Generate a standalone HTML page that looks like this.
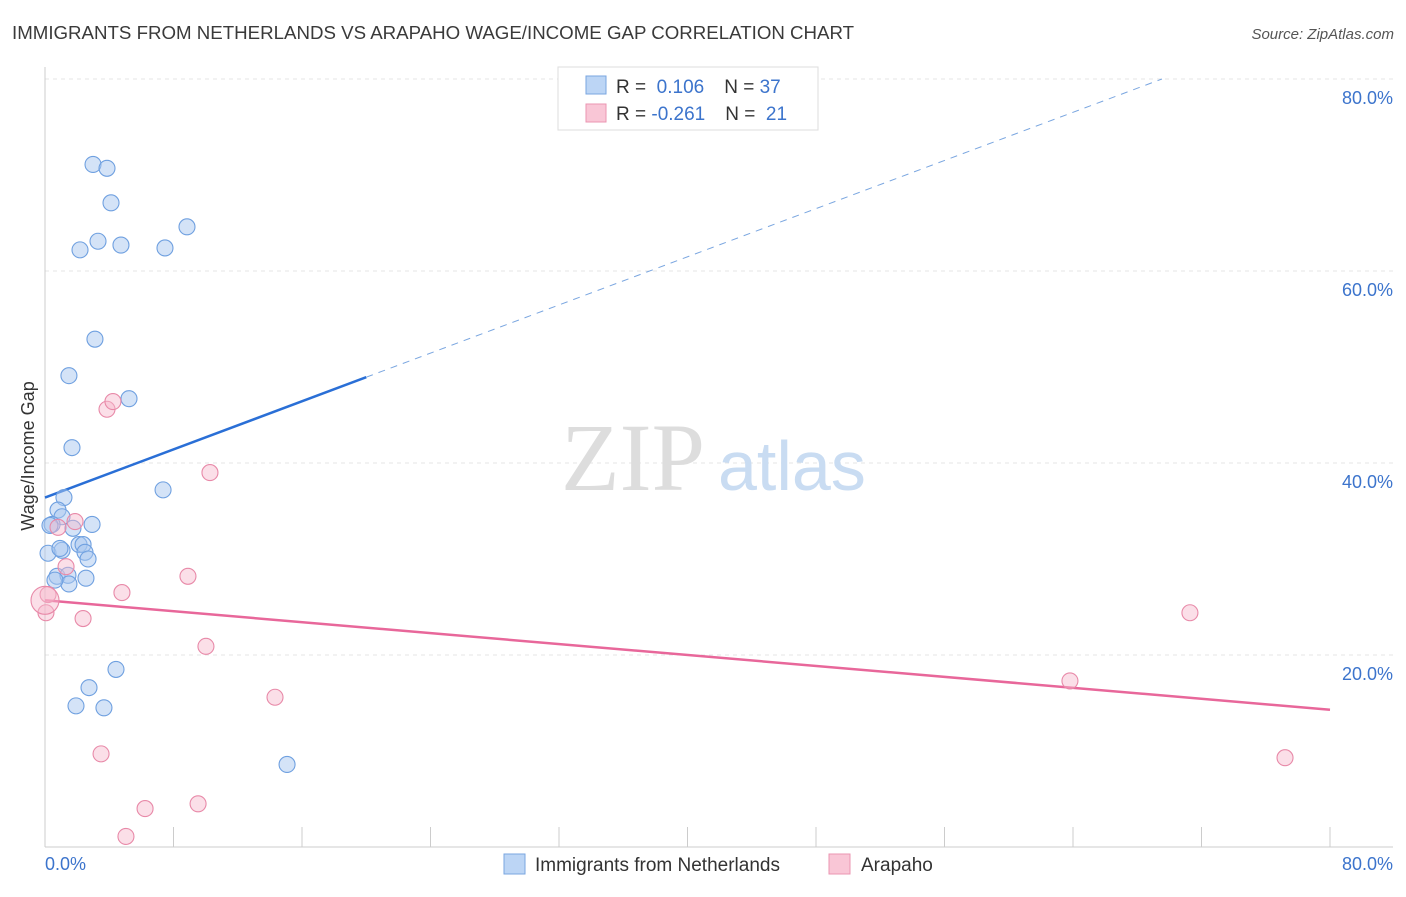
<!DOCTYPE html>
<html><head><meta charset="utf-8"><style>
body{margin:0;background:#fff;font-family:"Liberation Sans",sans-serif}
</style></head><body>
<svg width="1406" height="892" viewBox="0 0 1406 892" xmlns="http://www.w3.org/2000/svg">
<text x="12" y="39" font-size="18.7" fill="#3a3a3a">IMMIGRANTS FROM NETHERLANDS VS ARAPAHO WAGE/INCOME GAP CORRELATION CHART</text>
<text x="1394" y="39" font-size="15" fill="#555" font-style="italic" text-anchor="end">Source: ZipAtlas.com</text>
<g id="grid"></g>
<text x="705" y="490" font-size="96" fill="#ddd" text-anchor="end" font-family="Liberation Serif">ZIP</text>
<text x="718" y="490" font-size="70" fill="#c9dcf2">atlas</text>
<line x1="45" y1="67" x2="45" y2="847" stroke="#ccc"/>
<line x1="45" y1="847" x2="1393" y2="847" stroke="#ccc"/>
<g id="ticks"></g>
<text transform="translate(34,456) rotate(-90)" font-size="18" fill="#333" text-anchor="middle">Wage/Income Gap</text>
<text x="45" y="870" font-size="18" fill="#3c74cc">0.0%</text>
<text x="1393" y="870" font-size="18" fill="#3c74cc" text-anchor="end">80.0%</text>
<g id="lines"></g>
<g id="points"></g>
<g>
<rect x="558" y="67" width="260" height="63" fill="#fff" stroke="#ddd"/>
<rect x="586" y="76" width="20" height="18" fill="#bcd5f5" stroke="#7aa6e0"/>
<rect x="586" y="104" width="20" height="18" fill="#f9c6d6" stroke="#eb95b2"/>
<text x="616" y="93" font-size="19" fill="#333">R = <tspan fill="#3c74cc">&#160;0.106</tspan><tspan dx="20">N = </tspan><tspan fill="#3c74cc">37</tspan></text>
<text x="616" y="120" font-size="19" fill="#333">R = <tspan fill="#3c74cc">-0.261</tspan><tspan dx="20">N = </tspan><tspan fill="#3c74cc">&#160;21</tspan></text>
</g>
<g>
<rect x="504" y="854" width="21" height="20" fill="#bcd5f5" stroke="#7aa6e0"/>
<text x="535" y="871" font-size="19" fill="#333">Immigrants from Netherlands</text>
<rect x="829" y="854" width="21" height="20" fill="#f9c6d6" stroke="#eb95b2"/>
<text x="861" y="871" font-size="19" fill="#333">Arapaho</text>
</g>
</svg>
<script>
const yTicks=[20,40,60,80];
const xTicks=[8,16,24,32,40,48,56,64,72,80];
const blueX=[2.99,3.86,4.11,3.30,2.18,4.73,7.47,8.84,3.11,1.49,5.23,1.68,7.35,1.18,0.81,1.06,0.44,2.93,1.74,0.19,1.06,2.12,2.37,2.49,2.68,0.75,1.43,2.55,1.49,4.42,2.74,1.93,3.67,15.07,0.31,0.93,0.62];
const blueY=[71.1,70.7,67.1,63.1,62.2,62.7,62.4,64.6,52.9,49.1,46.7,41.6,37.2,36.4,35.1,34.4,33.6,33.6,33.2,30.6,30.9,31.5,31.5,30.7,30.0,28.2,28.3,28.0,27.4,18.5,16.6,14.7,14.5,8.6,33.5,31.1,27.8];
const pinkX=[3.86,4.23,10.27,1.87,0.81,1.31,8.90,4.79,0.19,2.37,0.06,10.02,14.32,3.49,6.23,9.53,5.04,71.28,63.81,77.2,0];
const pinkY=[45.6,46.4,39.0,33.9,33.3,29.2,28.2,26.5,26.3,23.8,24.4,20.9,15.6,9.7,4.0,4.5,1.1,24.4,17.3,9.3,25.7];
const blueTrend=[36.4,0.627];
const pinkTrend=[25.7,-0.1425];
const NS="http://www.w3.org/2000/svg";
const sx=v=>45+v*1285/80, sy=v=>847-v*9.6;
function mk(t,a,p){const e=document.createElementNS(NS,t);for(const k in a)e.setAttribute(k,a[k]);p.appendChild(e);return e;}
const grid=document.getElementById('grid');
yTicks.forEach(t=>{
 const l=mk('line',{x1:45,x2:1393,y1:sy(t),y2:sy(t),stroke:'#e4e4e4','stroke-dasharray':'4,4'},grid);
 
 
 const tx=mk('text',{x:1393,y:sy(t)+25,'font-size':18,fill:'#3c74cc','text-anchor':'end'},grid);
 tx.textContent=t.toFixed(1)+'%';
 
 
});
const ticks=document.getElementById('ticks');
xTicks.forEach(t=>{
 const l=mk('line',{x1:sx(t),x2:sx(t),y1:827,y2:847,stroke:'#ccc'},ticks);
 
 
});
const lines=document.getElementById('lines');
let l=mk('line',{x1:sx(0),y1:sy(blueTrend[0]),x2:sx(20),y2:sy(blueTrend[0]+20*blueTrend[1]),stroke:'#2a6fd6','stroke-width':2.5},lines);


const xe=(80-blueTrend[0])/blueTrend[1];
l=mk('line',{x1:sx(20),y1:sy(blueTrend[0]+20*blueTrend[1]),x2:sx(xe),y2:sy(80),stroke:'#7aa6e0','stroke-width':1,'stroke-dasharray':'7,6'},lines);


l=mk('line',{x1:sx(0),y1:sy(pinkTrend[0]),x2:sx(80),y2:sy(pinkTrend[0]+80*pinkTrend[1]),stroke:'#e8679a','stroke-width':2.5},lines);


const pts=document.getElementById('points');
blueX.forEach((x,i)=>{
 const c=mk('circle',{cx:sx(x),cy:sy(blueY[i]),r:8,fill:'rgba(169,200,240,0.5)',stroke:'#6fa0e0','stroke-width':1.1},pts);
 
 
});
pinkX.forEach((x,i)=>{
 const c=mk('circle',{cx:sx(x),cy:sy(pinkY[i]),r:i==pinkX.length-1?14:8,fill:'rgba(247,183,203,0.45)',stroke:'#e889a8','stroke-width':1.1},pts);
 
 
});
</script>
</body></html>
